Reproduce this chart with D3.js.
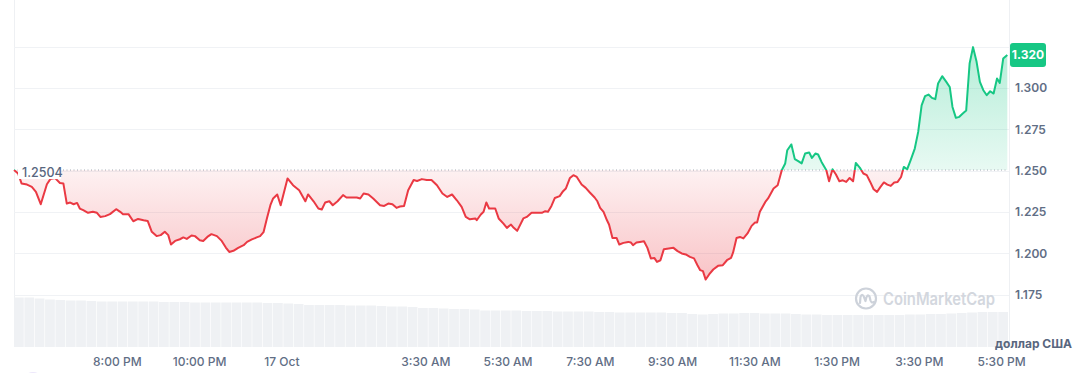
<!DOCTYPE html>
<html><head><meta charset="utf-8">
<script src="https://cdn.jsdelivr.net/npm/d3@7"></script>
<style>
html,body{margin:0;padding:0;background:#fff;}
svg{display:block;font-family:Inter,"Noto Sans",sans-serif;}
</style></head><body>
<svg id="chart" width="1082" height="373"></svg>
<script>
// ---- data ----
const startTime = "2023-10-16T17:30:00Z";
const endMinutes = 1450;
const minutesFromStart = [
0,6,11,19,26,32,39,48,53,60,
67,72,77,82,87,92,96,101,108,115,
121,126,133,140,149,155,159,167,174,181,
189,195,201,208,214,220,225,229,235,242,
247,252,259,264,271,276,282,288,296,303,
309,314,320,327,335,340,347,354,359,364,
369,374,378,384,389,399,407,416,425,429,
437,444,449,454,460,465,472,480,485,493,
500,505,510,517,524,534,540,546,552,558,
563,569,575,583,588,595,602,609,617,625,
632,639,646,653,659,665,673,675,681,685,
689,693,702,707,714,719,725,729,734,743,
748,755,763,770,775,779,784,789,796,801,
805,811,816,821,828,834,840,847,851,855,
860,865,868,873,879,883,889,896,900,903,
908,913,919,924,929,934,938,943,948,955,
962,968,974,980,986,992,997,1001,1005,1009,
1014,1020,1027,1034,1040,1046,1049,1054,1059,1064,
1070,1076,1081,1084,1088,1096,1100,1108,1114,1120,
1125,1128,1134,1139,1144,1149,1154,1160,1164,1169,
1173,1178,1185,1189,1194,1199,1204,1209,1214,1219,
1224,1228,1234,1239,1244,1249,1254,1259,1264,1269,
1274,1279,1284,1289,1294,1298,1303,1308,1314,1319,
1324,1329,1334,1339,1344,1348,1354,1360,1365,1369,
1374,1379,1384,1389,1394,1399,1404,1409,1414,1419,
1424,1429,1434,1438,1443,1449];
const prices = [
1.2504,1.2483,1.2423,1.2416,1.2402,1.2372,1.2297,1.2418,1.2449,1.2455,
1.2426,1.2423,1.2301,1.2307,1.2297,1.2305,1.2271,1.2261,1.2245,1.2251,
1.2245,1.2220,1.2225,1.2237,1.2267,1.2251,1.2237,1.2237,1.2194,1.2208,
1.2200,1.2196,1.2130,1.2104,1.2110,1.2130,1.2110,1.2053,1.2075,1.2085,
1.2096,1.2087,1.2108,1.2104,1.2079,1.2075,1.2099,1.2116,1.2104,1.2075,
1.2035,1.2008,1.2015,1.2033,1.2049,1.2069,1.2084,1.2096,1.2104,1.2128,
1.2212,1.2291,1.2332,1.2356,1.2291,1.2453,1.2412,1.2382,1.2315,1.2356,
1.2315,1.2271,1.2265,1.2308,1.2315,1.2291,1.2315,1.2352,1.2338,1.2338,
1.2338,1.2332,1.2362,1.2356,1.2332,1.2291,1.2287,1.2301,1.2297,1.2275,
1.2283,1.2287,1.2382,1.2444,1.2438,1.2449,1.2444,1.2444,1.2412,1.2362,
1.2341,1.2356,1.2321,1.2281,1.2220,1.2206,1.2211,1.2200,1.2235,1.2251,
1.2308,1.2271,1.2271,1.2211,1.2180,1.2154,1.2174,1.2154,1.2136,1.2211,
1.2220,1.2245,1.2245,1.2245,1.2255,1.2251,1.2287,1.2335,1.2346,1.2376,
1.2392,1.2456,1.2473,1.2462,1.2416,1.2396,1.2368,1.2338,1.2315,1.2275,
1.2251,1.2200,1.2174,1.2093,1.2093,1.2053,1.2063,1.2069,1.2065,1.2049,
1.2065,1.2069,1.2073,1.2033,1.1969,1.1972,1.1948,1.1958,1.2025,1.2029,
1.2033,1.2013,1.1999,1.1993,1.1978,1.1969,1.1928,1.1898,1.1892,1.1841,
1.1872,1.1902,1.1924,1.1928,1.1958,1.1972,1.2005,1.2093,1.2099,1.2090,
1.2120,1.2166,1.2186,1.2186,1.2251,1.2311,1.2332,1.2392,1.2412,1.2503,
1.2544,1.2624,1.2659,1.2570,1.2558,1.2544,1.2604,1.2610,1.2577,1.2604,
1.2598,1.2553,1.2503,1.2436,1.2509,1.2477,1.2436,1.2442,1.2432,1.2456,
1.2436,1.2547,1.2517,1.2483,1.2473,1.2432,1.2388,1.2372,1.2402,1.2429,
1.2416,1.2408,1.2429,1.2432,1.2462,1.2523,1.2509,1.2564,1.2634,1.2735,
1.2896,1.2951,1.2961,1.2941,1.2933,1.3028,1.3072,1.3038,1.3007,1.2886,
1.2820,1.2826,1.2846,1.2864,1.3149,1.3248,1.3163,1.3038,1.2987,1.2957,
1.2981,1.2967,1.3058,1.3031,1.3179,1.3200];
const volumes = [
49.5,49.5,48.5,47.5,47,46.5,46.5,46,45.5,45.5,
45.5,45.5,45.5,45.5,45,45,45,44.5,44.5,44.5,
44.5,44.5,44.5,44.5,44,44,43.5,43,42,42,
42,42,41.5,41.5,41.5,41,40.5,40.5,40,39,
39,38.5,38,38,37.5,36.5,36.5,36.5,36.5,36,
36,36,35.5,35.5,35.5,35.5,35,35,34.5,34.5,
34.5,34.5,34.5,34,34,33,32.5,33,33.5,33.5,
34,34,33.5,33.5,33.5,33,32.5,32.5,32,32,
32,32,32,32,32,32,32.5,32.5,33,33,
33.5,34,34.5,35,35,35];
const baselinePrice = 1.2504;
const lastPrice = 1.320;
const yTickLabels = [1.175, 1.200, 1.225, 1.250, 1.275, 1.300];
const yGridValues = [1.175, 1.200, 1.225, 1.250, 1.275, 1.300, 1.325];
const xTickTimes = ["2023-10-16T20:00:00Z","2023-10-16T22:00:00Z","2023-10-17T00:00:00Z",
  "2023-10-17T03:30:00Z","2023-10-17T05:30:00Z","2023-10-17T07:30:00Z","2023-10-17T09:30:00Z",
  "2023-10-17T11:30:00Z","2023-10-17T13:30:00Z","2023-10-17T15:30:00Z","2023-10-17T17:30:00Z"];
const currencyLabel = "доллар США";
const watermarkText = "CoinMarketCap";

// ---- chart ----
const RED = "#ea3943", GREEN = "#16c784";
const svg = d3.select("#chart");
const t0 = new Date(startTime);
const data = minutesFromStart.map((m, i) => ({t: new Date(t0.getTime() + m * 60000), v: prices[i]}));

const x = d3.scaleUtc().domain([t0, new Date(t0.getTime() + endMinutes * 60000)]).range([14, 1008]);
const y = d3.scaleLinear().domain([1.175, 1.35]).range([294.6, 5.5]);
const yb = y(baselinePrice);

const defs = svg.append("defs");
defs.append("clipPath").attr("id", "clipAbove").append("rect")
  .attr("x", 0).attr("y", 0).attr("width", 1082).attr("height", yb);
defs.append("clipPath").attr("id", "clipBelow").append("rect")
  .attr("x", 0).attr("y", yb).attr("width", 1082).attr("height", 373 - yb);
const rg = defs.append("linearGradient").attr("id", "redGrad").attr("gradientUnits", "userSpaceOnUse")
  .attr("x1", 0).attr("x2", 0).attr("y1", yb).attr("y2", y(1.185));
rg.append("stop").attr("offset", 0).attr("stop-color", RED).attr("stop-opacity", 0.07);
rg.append("stop").attr("offset", 1).attr("stop-color", RED).attr("stop-opacity", 0.3);
const gg = defs.append("linearGradient").attr("id", "greenGrad").attr("gradientUnits", "userSpaceOnUse")
  .attr("x1", 0).attr("x2", 0).attr("y1", y(1.325)).attr("y2", yb);
gg.append("stop").attr("offset", 0).attr("stop-color", GREEN).attr("stop-opacity", 0.32);
gg.append("stop").attr("offset", 1).attr("stop-color", GREEN).attr("stop-opacity", 0.1);

// frame verticals
svg.append("line").attr("x1", 14.5).attr("x2", 14.5).attr("y1", 0).attr("y2", 347).attr("stroke", "#eef0f3");
svg.append("line").attr("x1", 1009.5).attr("x2", 1009.5).attr("y1", 0).attr("y2", 347).attr("stroke", "#eef0f3");

// grid
svg.append("g").selectAll("line").data(yGridValues).join("line")
  .attr("x1", 14).attr("x2", 1009).attr("y1", d => Math.round(y(d)) + 0.5).attr("y2", d => Math.round(y(d)) + 0.5)
  .attr("stroke", "#f0f2f5");

// volume
const xb = d3.scaleBand().domain(d3.range(volumes.length)).range([14, 1008]).paddingInner(0.06);
const yv = d3.scaleLinear().domain([0, 50]).range([347, 297]);
svg.append("g").selectAll("rect").data(volumes).join("rect")
  .attr("x", (d, i) => xb(i)).attr("width", xb.bandwidth())
  .attr("y", d => yv(d)).attr("height", d => 347 - yv(d))
  .attr("fill", "#eff1f4");

// areas
const area = d3.area().x(d => x(d.t)).y0(yb).y1(d => y(d.v));
const line = d3.line().x(d => x(d.t)).y(d => y(d.v));
svg.append("path").datum(data).attr("d", area).attr("fill", "url(#greenGrad)").attr("clip-path", "url(#clipAbove)");
svg.append("path").datum(data).attr("d", area).attr("fill", "url(#redGrad)").attr("clip-path", "url(#clipBelow)");

// baseline dotted
svg.append("line").attr("x1", 14).attr("x2", 1008).attr("y1", yb).attr("y2", yb)
  .attr("stroke", "#a1a7b3").attr("stroke-width", 1).attr("stroke-dasharray", "1,2.5");

// lines
svg.append("path").datum(data).attr("d", line).attr("fill", "none").attr("stroke", GREEN)
  .attr("stroke-width", 2).attr("stroke-linejoin", "round").attr("clip-path", "url(#clipAbove)");
svg.append("path").datum(data).attr("d", line).attr("fill", "none").attr("stroke", RED)
  .attr("stroke-width", 2).attr("stroke-linejoin", "round").attr("clip-path", "url(#clipBelow)");

// baseline label
svg.append("rect").attr("x", 18).attr("y", yb - 7).attr("width", 43).attr("height", 16).attr("fill", "#fff");
svg.append("text").attr("x", 22).attr("y", yb + 6.5).text(baselinePrice.toFixed(4))
  .attr("font-size", 12.5).attr("font-weight", 500).attr("fill", "#58667e");

// y axis
const yAxis = svg.append("g").attr("transform", "translate(1015,0)")
  .call(d3.axisRight(y).tickValues(yTickLabels).tickFormat(d3.format(".3f")).tickSize(0).tickPadding(0));
yAxis.select(".domain").remove();
yAxis.selectAll("text").attr("font-size", 12).attr("font-weight", 600).attr("fill", "#616e85")
  .attr("font-family", "Inter,'Noto Sans',sans-serif");

// x axis
const fmtTime = d3.utcFormat("%-I:%M %p");
const fmtDay = d3.utcFormat("%-d %b");
const xAxis = svg.append("g").attr("transform", "translate(0,353)")
  .call(d3.axisBottom(x).tickValues(xTickTimes.map(s => new Date(s)))
    .tickFormat(d => (d.getUTCHours() === 0 && d.getUTCMinutes() === 0) ? fmtDay(d) : fmtTime(d))
    .tickSize(0).tickPadding(4));
xAxis.select(".domain").remove();
xAxis.selectAll("text").attr("font-size", 12).attr("font-weight", 500).attr("fill", "#616e85")
  .attr("font-family", "Inter,'Noto Sans',sans-serif");

// currency label
svg.append("text").attr("x", 1072).attr("y", 347.5).attr("text-anchor", "end").text(currencyLabel)
  .attr("font-size", 12).attr("font-weight", 700).attr("fill", "#58667e");

// watermark
const wm = svg.append("g").attr("fill", "none").attr("stroke", "#cdd2da").attr("stroke-width", 2.2)
  .attr("stroke-linecap", "round").attr("stroke-linejoin", "round");
wm.append("circle").attr("cx", 866).attr("cy", 298.5).attr("r", 10);
wm.append("path").attr("d", "M860,303 L860.5,297 Q862,292.5 864,297 L865.5,301 Q867,293 869.5,296.5 L870.5,300.5 Q871.5,303.5 874,302");
svg.append("text").attr("x", 883).attr("y", 304.5).text(watermarkText)
  .attr("font-size", 17).attr("font-weight", 600).attr("fill", "#d3d7de")
  .attr("textLength", 112).attr("lengthAdjust", "spacingAndGlyphs");

// last price label
const yl = y(lastPrice);
svg.append("rect").attr("x", 1010).attr("y", yl - 12).attr("width", 36).attr("height", 24).attr("rx", 3).attr("fill", GREEN);
svg.append("text").attr("x", 1028).attr("y", yl + 4.3).attr("text-anchor", "middle").text(lastPrice.toFixed(3))
  .attr("font-size", 12).attr("font-weight", 700).attr("fill", "#fff");

// corner decoration
svg.append("circle").attr("cx", 33).attr("cy", 383).attr("r", 11).attr("fill", "#ede7fb");
</script>
</body></html>
